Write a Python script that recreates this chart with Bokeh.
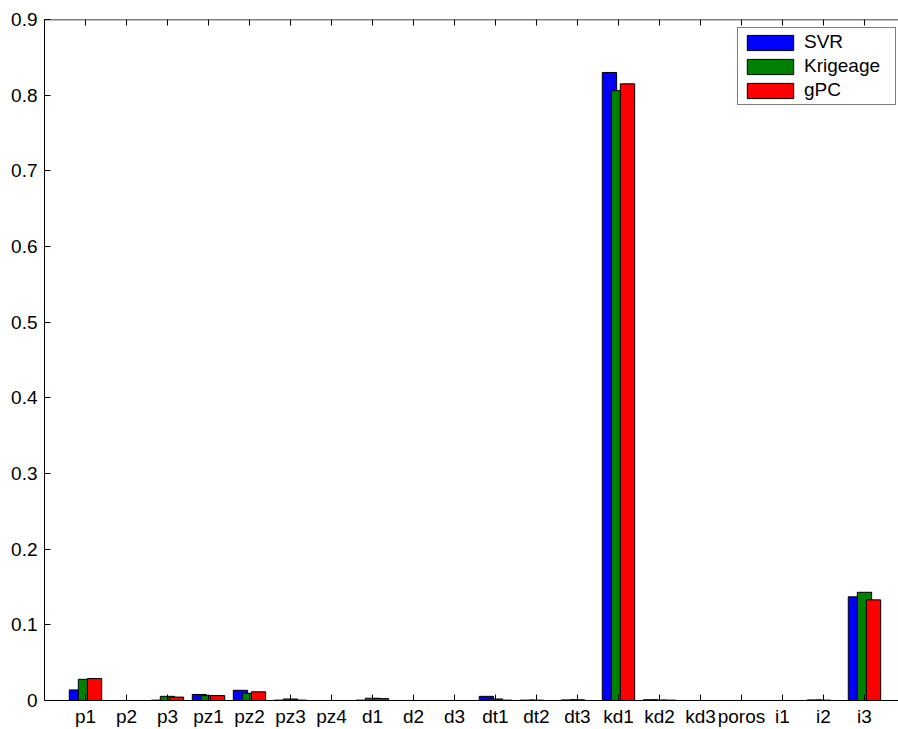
from bokeh.plotting import figure
from bokeh.models import FixedTicker, LinearAxis, Range1d, Span
from bokeh.embed import file_html
from bokeh.resources import INLINE

categories = ["p1", "p2", "p3", "pz1", "pz2", "pz3", "pz4", "d1", "d2", "d3",
              "dt1", "dt2", "dt3", "kd1", "kd2", "kd3", "poros", "i1", "i2", "i3"]
svr = [0.014, 0.0, 0.0005, 0.008, 0.0135, 0.0005, 0.0, 0.0005, 0.0, 0.0,
       0.0055, 0.0005, 0.0008, 0.830, 0.001, 0.0, 0.0, 0.0, 0.0008, 0.137]
krigeage = [0.028, 0.0, 0.0055, 0.0065, 0.0095, 0.002, 0.0, 0.003, 0.0, 0.0,
            0.002, 0.0005, 0.001, 0.806, 0.0005, 0.0, 0.0, 0.0, 0.0005, 0.143]
gpc = [0.029, 0.0, 0.0045, 0.0065, 0.0115, 0.0005, 0.0, 0.0025, 0.0, 0.0,
       0.0005, 0.0, 0.0, 0.815, 0.0005, 0.0, 0.0, 0.0, 0.0, 0.133]
series_names = ["SVR", "Krigeage", "gPC"]
series_colors = ["#0000ff", "#008000", "#ff0000"]
y_ticks = [0, 0.1, 0.2, 0.3, 0.4, 0.5, 0.6, 0.7, 0.8, 0.9]
y_tick_labels = ["0", "0.1", "0.2", "0.3", "0.4", "0.5", "0.6", "0.7", "0.8", "0.9"]
y_max = 0.9

xs = list(range(1, len(categories) + 1))
FONT = "Liberation Sans"
FS = "19px"

p = figure(width=898, height=729, output_backend="svg", toolbar_location=None,
           x_range=Range1d(0, 20.83), y_range=Range1d(0, y_max),
           min_border_left=44, min_border_right=0, min_border_top=19, min_border_bottom=29,
           x_axis_location=None, y_axis_location=None)
p.grid.visible = False
p.outline_line_color = None
p.background_fill_color = "white"
p.border_fill_color = "white"

offsets = [-0.22, 0.0, 0.22]
for vals, name, color, off in zip([svr, krigeage, gpc], series_names, series_colors, offsets):
    p.vbar(x=[x + off for x in xs], top=vals, bottom=0, width=0.35,
           fill_color=color, line_color="black", line_width=1, legend_label=name)

# top box edge with inward ticks at the category positions
tick_len = 0.008
p.segment(x0=xs, x1=xs, y0=[y_max] * len(xs), y1=[y_max - tick_len] * len(xs),
          line_color="black", line_width=1)
p.add_layout(Span(location=y_max, dimension="width", line_color="black", line_width=1.5))

xaxis = LinearAxis(ticker=FixedTicker(ticks=xs),
                   major_label_overrides={x: c for x, c in zip(xs, categories)})
yaxis = LinearAxis(ticker=FixedTicker(ticks=y_ticks),
                   major_label_overrides={t: l for t, l in zip(y_ticks, y_tick_labels)})

for ax in (xaxis, yaxis):
    ax.major_tick_in = 6
    ax.major_tick_out = 0
    ax.minor_tick_line_color = None
    ax.axis_line_color = "black"
    ax.axis_line_width = 1
    ax.major_tick_line_color = "black"
    ax.major_label_text_font = FONT
    ax.major_label_text_color = "black"
    ax.major_label_text_font_size = FS
xaxis.major_label_standoff = 5
yaxis.major_label_standoff = 7

p.add_layout(xaxis, "below")
p.add_layout(yaxis, "left")

lg = p.legend[0]
lg.location = (693, 595)
lg.border_line_color = "black"
lg.border_line_width = 1
lg.background_fill_color = "white"
lg.background_fill_alpha = 1
lg.glyph_width = 58
lg.glyph_height = 19
lg.label_height = 19
lg.label_width = 88
lg.label_standoff = 5
lg.spacing = 2
lg.padding = 3
lg.margin = 0
lg.label_text_font = FONT
lg.label_text_font_size = FS
lg.label_text_color = "black"

open("out.html", "w").write(file_html(p, INLINE))
